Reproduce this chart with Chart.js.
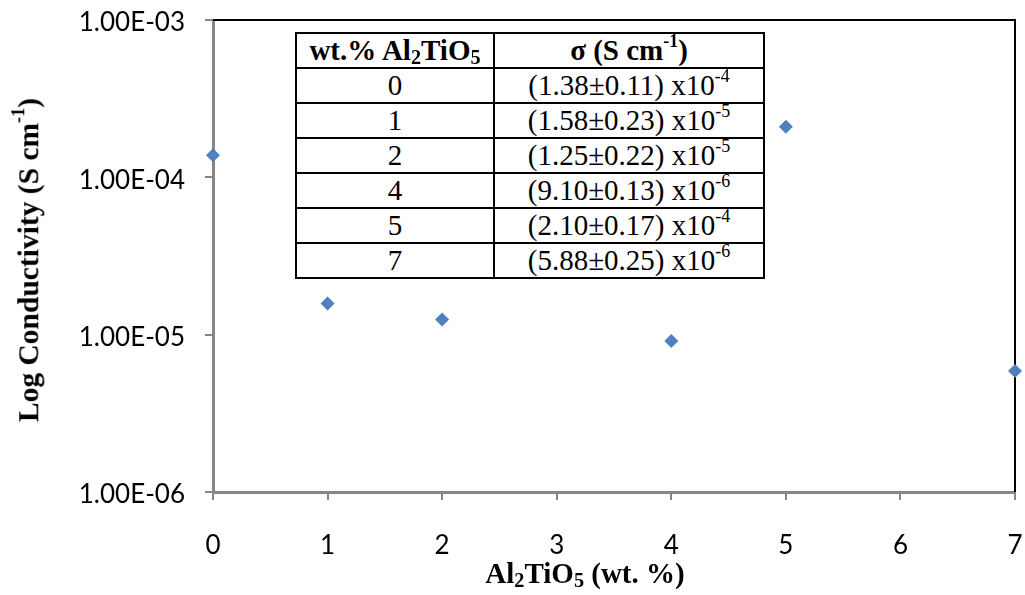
<!DOCTYPE html>
<html lang="en">
<head>
    <meta charset="UTF-8">
    <title>Log Conductivity vs Al2TiO5</title>
    <script src="https://cdn.jsdelivr.net/npm/chart.js"></script>
    <style>
        body { margin: 0; background: #fff; }
        #wrap { position: relative; width: 1025px; height: 595px; }
        .serif { font-family: "Liberation Serif", "Times New Roman", serif; color: #000; }
        sup, sub { line-height: 0; position: relative; vertical-align: baseline; }
        sup { font-size: 0.62em; top: -0.75em; }
        sub { font-size: 0.7em; top: 0.2em; }
        #axisX, #axisY { position: absolute; font-weight: bold; font-size: 29px; line-height: 1; white-space: nowrap; }
        #axisX { left: 585px; top: 573px; transform: translate(-50%, -50%); }
        #axisY { left: 29px; top: 260px; font-size: 29.5px; transform: translate(-50%, -50%) rotate(-90deg); }
        #sigmaTable {
            position: absolute; left: 295px; top: 32px;
            border-collapse: collapse; background: #fff;
            font-size: 29px; line-height: 1;
        }
        #sigmaTable td, #sigmaTable th {
            border: 2px solid #000; height: 33px; padding: 0; text-align: center;
        }
        #sigmaTable th { font-weight: bold; }
    </style>
</head>
<body>
<div id="wrap">
    <canvas id="myChart" width="1025" height="595"></canvas>
    <table id="sigmaTable" class="serif">
        <thead>
            <tr>
                <th style="width:196px">wt.% Al<sub>2</sub>TiO<sub>5</sub></th>
                <th style="width:268px">&sigma; (S cm<sup>-1</sup>)</th>
            </tr>
        </thead>
        <tbody id="sigmaRows"></tbody>
    </table>
    <div id="axisY" class="serif">Log Conductivity (S cm<sup>-1</sup>)</div>
    <div id="axisX" class="serif">Al<sub>2</sub>TiO<sub>5</sub> (wt. %)</div>
</div>

<script>
    // measured conductivity, sigma = mantissa x 10^exp (S cm-1)
    const wtPct = [0, 1, 2, 4, 5, 7];
    const sigmaMant = [1.38, 1.58, 1.25, 9.10, 2.10, 5.88];
    const sigmaErr = [0.11, 0.23, 0.22, 0.13, 0.17, 0.25];
    const sigmaExp = [-4, -5, -5, -6, -4, -6];

    const yTicks = [1e-6, 1e-5, 1e-4, 1e-3];
    const xTicks = [0, 1, 2, 3, 4, 5, 6, 7];

    const sigma = sigmaMant.map((m, i) => m * Math.pow(10, sigmaExp[i]));

    // table rows
    const tbody = document.getElementById('sigmaRows');
    wtPct.forEach((w, i) => {
        const tr = document.createElement('tr');
        tr.innerHTML = '<td>' + w + '</td><td>(' + sigmaMant[i].toFixed(2) + '&plusmn;' +
            sigmaErr[i].toFixed(2) + ') x10<sup>' + sigmaExp[i] + '</sup></td>';
        tbody.appendChild(tr);
    });

    // 1.00E-03 style labels
    function sciLabel(v) {
        const e = Math.round(Math.log10(v));
        const m = v / Math.pow(10, e);
        return m.toFixed(2) + 'E' + (e < 0 ? '-' : '+') + String(Math.abs(e)).padStart(2, '0');
    }

    // fixed axis sizes, no extra padding from the edge labels
    function fixSize(prop, size) {
        return s => {
            s[prop] = size;
            s.paddingTop = s.paddingBottom = s.paddingLeft = s.paddingRight = 0;
        };
    }

    // black frame on top and right of the plot area
    const frame = {
        id: 'frame',
        beforeDatasetsDraw(chart) {
            const a = chart.chartArea, ctx = chart.ctx;
            ctx.save();
            ctx.strokeStyle = '#000';
            ctx.lineWidth = 2;
            ctx.beginPath();
            ctx.moveTo(a.left, a.top);
            ctx.lineTo(a.right, a.top);
            ctx.lineTo(a.right, a.bottom);
            ctx.stroke();
            ctx.restore();
        }
    };

    Chart.defaults.font.family = 'Lato';
    Chart.defaults.color = '#000';

    const ctx = document.getElementById('myChart').getContext('2d');
    new Chart(ctx, {
        type: 'scatter',
        data: {
            datasets: [{
                data: wtPct.map((x, i) => ({ x: x, y: sigma[i] })),
                pointStyle: 'rectRot',
                pointRadius: 7,
                backgroundColor: '#4F81BD',
                borderColor: '#4F81BD',
                borderWidth: 0,
                clip: false
            }]
        },
        options: {
            responsive: false,
            animation: false,
            layout: { padding: { top: 20, right: 10, left: 0, bottom: 0 } },
            plugins: { legend: { display: false }, tooltip: { enabled: false } },
            scales: {
                x: {
                    type: 'linear',
                    min: 0,
                    max: 7,
                    afterBuildTicks: s => { s.ticks = xTicks.map(v => ({ value: v })); },
                    afterFit: fixSize('height', 103),
                    ticks: { font: { size: 26 }, padding: 30, maxRotation: 0 },
                    grid: { drawOnChartArea: false, drawTicks: true, tickLength: 8, color: '#868686', lineWidth: 2 },
                    border: { color: '#868686', width: 3 }
                },
                y: {
                    type: 'logarithmic',
                    min: 1e-6,
                    max: 1e-3,
                    afterBuildTicks: s => { s.ticks = yTicks.map(v => ({ value: v })); },
                    afterFit: fixSize('width', 213),
                    ticks: { font: { size: 26 }, padding: 20, labelOffset: 3, callback: v => sciLabel(v) },
                    grid: { drawOnChartArea: false, drawTicks: true, tickLength: 8, color: '#868686', lineWidth: 2 },
                    border: { color: '#868686', width: 3 }
                }
            }
        },
        plugins: [frame]
    });
</script>
</body>
</html>
